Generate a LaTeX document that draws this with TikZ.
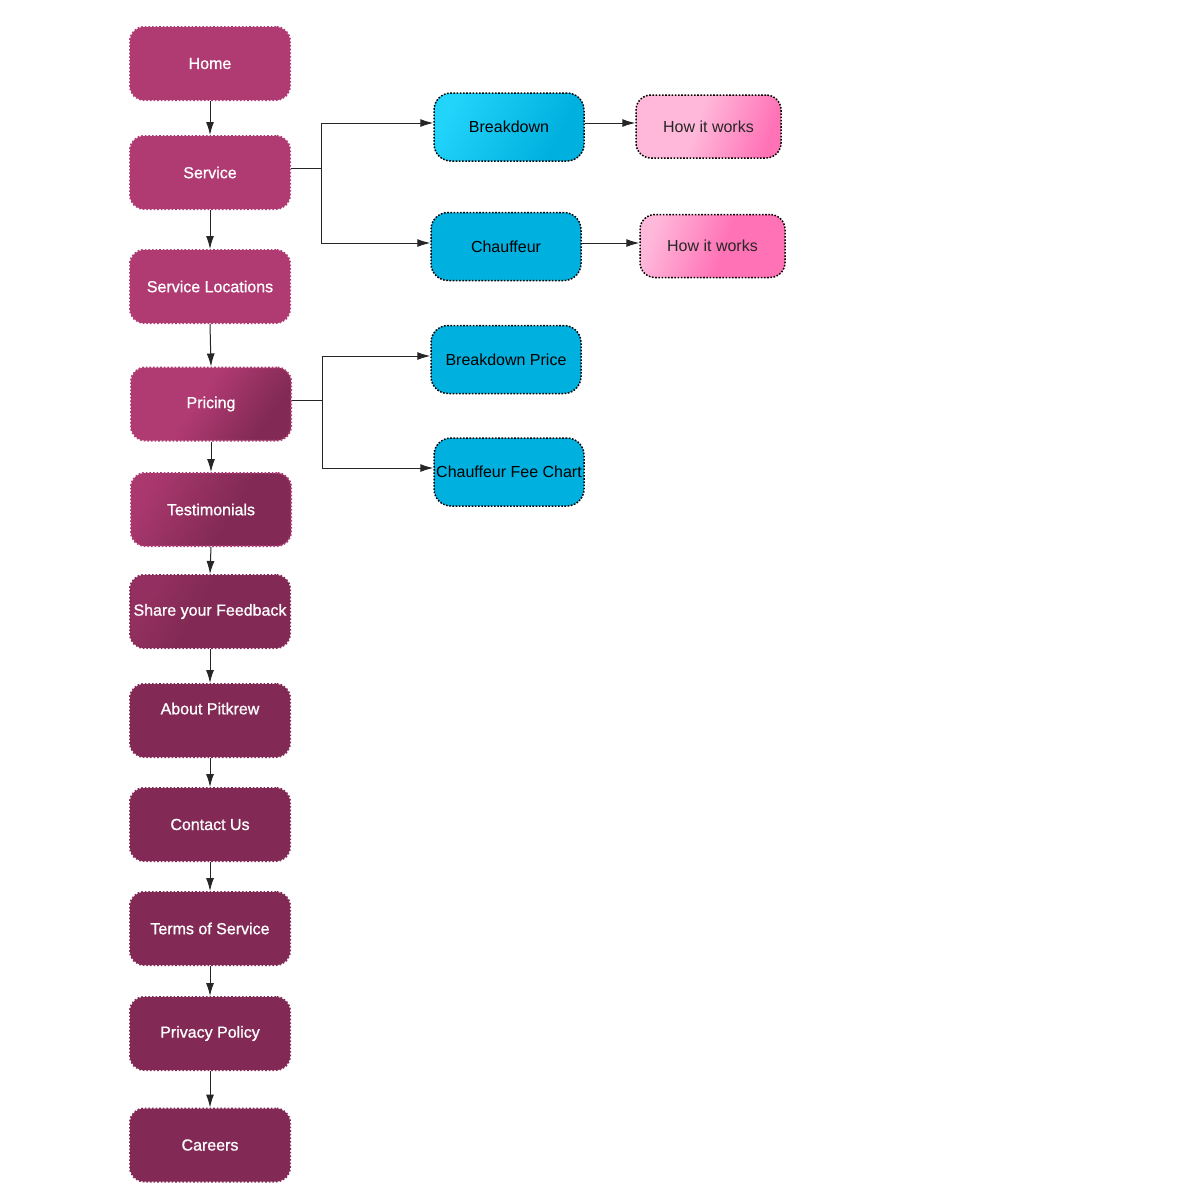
\documentclass[tikz,border=0pt]{standalone}
\usepackage{fontspec}
\setmainfont{Liberation Sans}
\newfontfamily\pagefont[FakeBold=0.9]{Liberation Sans}
\usetikzlibrary{arrows.meta,shadings}
\definecolor{mlight}{HTML}{B03A72}
\definecolor{mdark}{HTML}{822A55}
\definecolor{bblue}{HTML}{00B0DE}
\definecolor{bcyan}{HTML}{22D4FA}
\definecolor{plight}{HTML}{FFB8DA}
\definecolor{pdark}{HTML}{FF72B6}
\pgfdeclarehorizontalshading{pricingshade}{100bp}{color(0bp)=(mlight); color(45bp)=(mlight); color(72bp)=(mdark); color(100bp)=(mdark)}
\pgfdeclarehorizontalshading{testishade}{100bp}{color(0bp)=(mlight); color(25bp)=(mlight!85!mdark); color(58bp)=(mdark); color(100bp)=(mdark)}
\pgfdeclarehorizontalshading{shareshade}{100bp}{color(0bp)=(mlight!40!mdark); color(25bp)=(mlight!40!mdark); color(45bp)=(mdark); color(100bp)=(mdark)}
\pgfdeclarehorizontalshading{breakshade}{100bp}{color(0bp)=(bcyan); color(25bp)=(bcyan); color(70bp)=(bblue); color(100bp)=(bblue)}
\pgfdeclarehorizontalshading{howashade}{100bp}{color(0bp)=(plight); color(45bp)=(plight); color(75bp)=(pdark); color(100bp)=(pdark)}
\pgfdeclarehorizontalshading{howbshade}{100bp}{color(0bp)=(plight); color(25bp)=(plight); color(55bp)=(pdark); color(100bp)=(pdark)}
\tikzset{
  pagebox/.style={rounded corners=14pt, minimum width=160pt, minimum height=73pt,
    inner sep=0pt, text=white, font=\pagefont\fontsize{16}{18}\selectfont,
    draw=#1, dash pattern=on 1.6pt off 2pt, line width=2pt},
  pagebox/.default=mlight,
  subbox/.style={rounded corners=17pt, minimum width=150pt, minimum height=68pt,
    inner sep=0pt, text=black, font=\fontsize{16}{18}\selectfont,
    draw=black, dash pattern=on 1.6pt off 1.6pt, line width=1.5pt, fill=bblue},
  howbox/.style={rounded corners=15pt, minimum width=145pt, minimum height=63pt,
    inner sep=0pt, text=black!85, font=\fontsize{16}{18}\selectfont,
    draw=black, dash pattern=on 1.6pt off 1.6pt, line width=1.5pt},
  conn/.style={draw=black!85, line width=1pt, -{Latex[length=13pt,width=8pt]}},
  plain/.style={draw=black!85, line width=1pt}
}
\begin{document}
\begin{tikzpicture}[x=1pt,y=-1pt]
\useasboundingbox[fill=white] (0,0) rectangle (1200,1200);
% main column
\node[pagebox, fill=mlight] (home) at (210,63.5) {Home};
\node[pagebox, fill=mlight] (service) at (210,172.5) {Service};
\node[pagebox, fill=mlight] (locations) at (210,286.5) {Service Locations};
\node[pagebox, shading=pricingshade, shading angle=-35] (pricing) at (211,404) {Pricing};
\node[pagebox, shading=testishade, shading angle=-30] (testimonials) at (211,509.5) {Testimonials};
\node[pagebox=mdark, shading=shareshade, shading angle=-30] (feedback) at (210,611.5) {Share your Feedback};
\node[pagebox=mdark, fill=mdark, text depth=24pt] (about) at (210,720.5) {About Pitkrew};
\node[pagebox=mdark, fill=mdark] (contact) at (210,824.5) {Contact Us};
\node[pagebox=mdark, fill=mdark] (terms) at (210,928.5) {Terms of Service};
\node[pagebox=mdark, fill=mdark] (privacy) at (210,1033.5) {Privacy Policy};
\node[pagebox=mdark, fill=mdark] (careers) at (210,1145) {Careers};
% sub pages
\node[subbox, shading=breakshade, shading angle=-30] (breakdown) at (509,127) {Breakdown};
\node[subbox] (chauffeur) at (506,246.5) {Chauffeur};
\node[subbox] (bprice) at (506,359.5) {Breakdown Price};
\node[subbox] (feechart) at (509,472) {Chauffeur Fee Chart};
\node[howbox, shading=howashade, shading angle=-20] (howa) at (708.5,126.5) {How it works};
\node[howbox, shading=howbshade, shading angle=-20] (howb) at (712.5,246) {How it works};
% vertical chain
\draw[conn] (home) -- (service);
\draw[conn] (service) -- (locations);
\draw[conn] (locations.south) -- (pricing.north);
\draw[conn] (pricing) -- (testimonials);
\draw[conn] (testimonials.south) -- (feedback.north);
\draw[conn] (feedback) -- (about);
\draw[conn] (about) -- (contact);
\draw[conn] (contact) -- (terms);
\draw[conn] (terms) -- (privacy);
\draw[conn] (privacy) -- (careers);
% branches
\coordinate (sj) at (321,168);
\coordinate (pj) at (322,400);
\draw[plain] ([yshift=4.5pt]service.east) -- (sj);
\draw[conn] (sj) |- ([yshift=4pt]breakdown.west);
\draw[conn] (sj) |- ([yshift=3.5pt]chauffeur.west);
\draw[plain] ([yshift=4pt]pricing.east) -- (pj);
\draw[conn] (pj) |- ([yshift=3.5pt]bprice.west);
\draw[conn] (pj) |- ([yshift=4pt]feechart.west);
\draw[conn] ([yshift=4pt]breakdown.east) -- ([yshift=3.5pt]howa.west);
\draw[conn] ([yshift=3.5pt]chauffeur.east) -- ([yshift=3pt]howb.west);
\end{tikzpicture}
\end{document}
